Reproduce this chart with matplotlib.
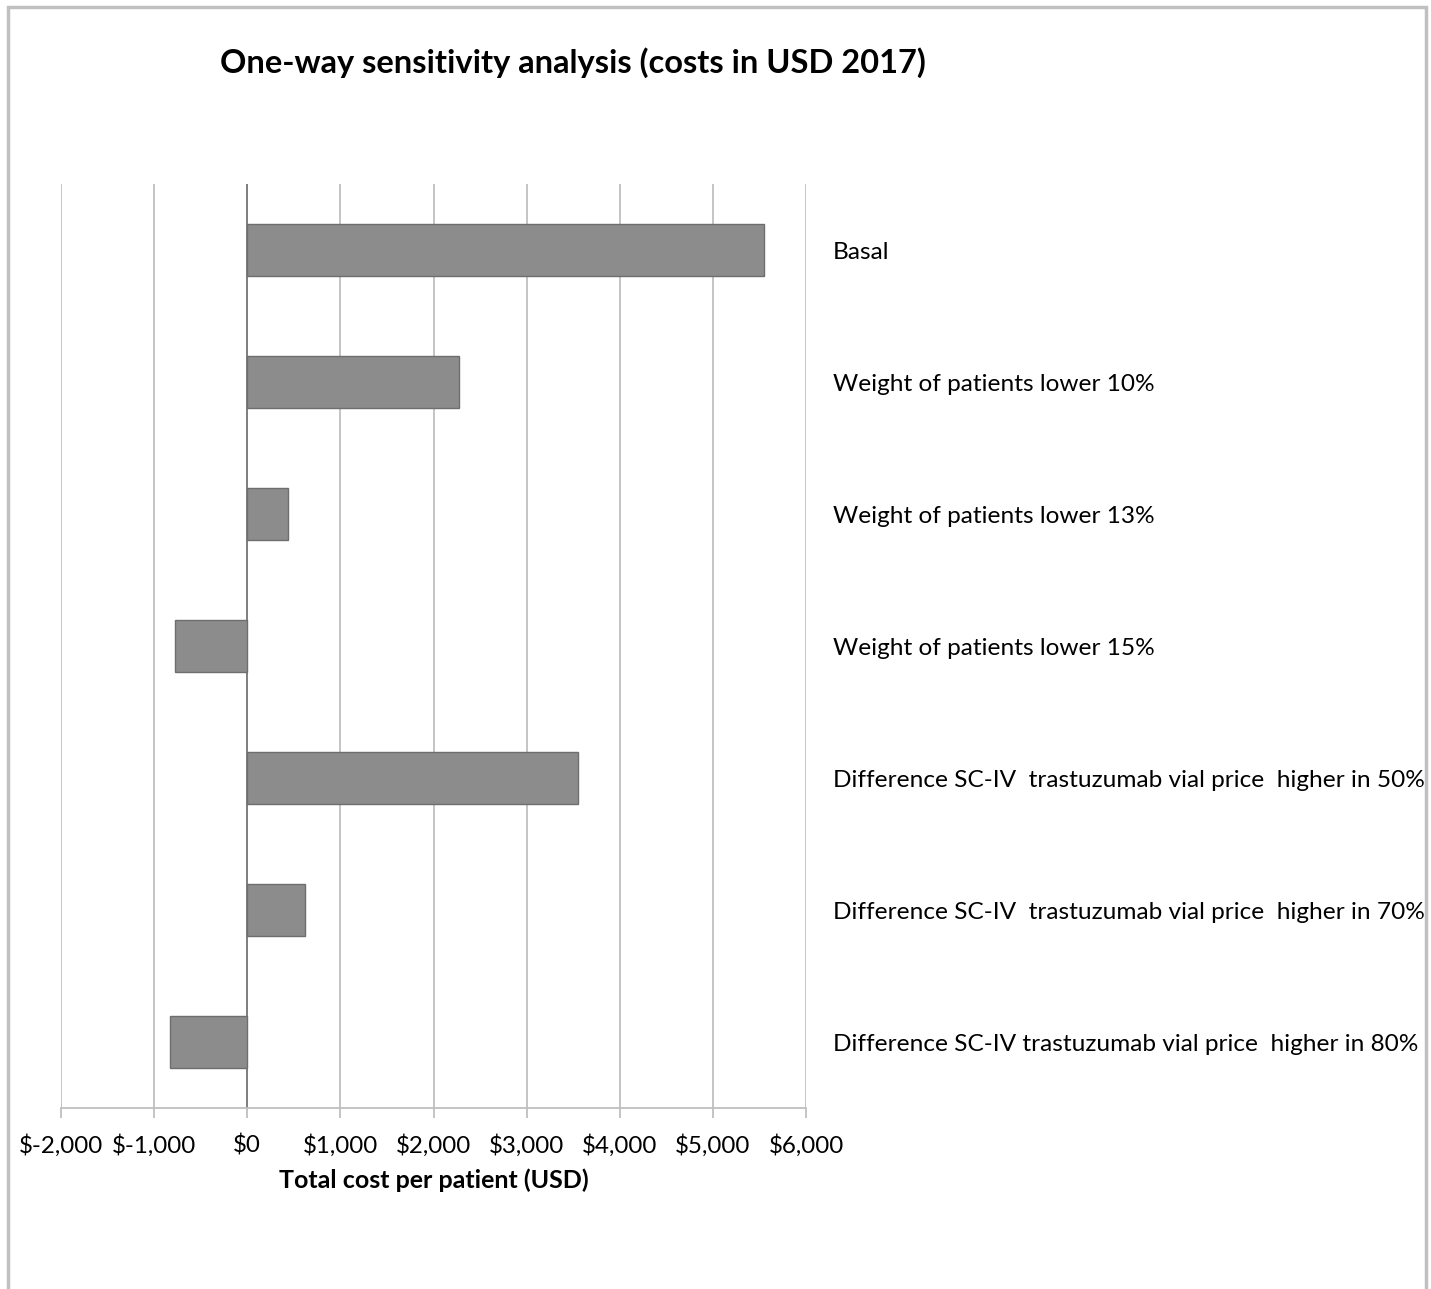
import matplotlib
matplotlib.use("Agg")
import matplotlib.pyplot as plt
from matplotlib.patches import Rectangle
from matplotlib.ticker import FuncFormatter

categories = [
    "Basal",
    "Weight of patients lower 10%",
    "Weight of patients lower 13%",
    "Weight of patients lower 15%",
    "Difference SC-IV  trastuzumab vial price  higher in 50%",
    "Difference SC-IV  trastuzumab vial price  higher in 70%",
    "Difference SC-IV trastuzumab vial price  higher in 80%",
]
values = [5550, 2270, 440, -780, 3550, 620, -830]
xticks = [-2000, -1000, 0, 1000, 2000, 3000, 4000, 5000, 6000]

plt.rcParams['font.family'] = ['Lato', 'DejaVu Sans']

fig = plt.figure(figsize=(14.31, 12.89), dpi=100)
ax = fig.add_axes([61/1431, (1289-1108)/1289, 745/1431, 924/1289])

y = list(range(len(categories)))
ax.barh(y, values, height=0.4, color='#8c8c8c', edgecolor='#6e6e6e', linewidth=1, zorder=3)
ax.set_ylim(len(categories) - 0.5, -0.5)
ax.set_xlim(-2000, 6000)
ax.set_xticks(xticks)
ax.xaxis.set_major_formatter(FuncFormatter(lambda v, p: "$" + format(int(v), ",")))
ax.grid(axis='x', color='#bfbfbf', linewidth=1.3, zorder=0)
ax.axvline(0, color='#7a7a7a', linewidth=1.3, zorder=2)
for s in ['top', 'left', 'right']:
    ax.spines[s].set_visible(False)
ax.spines['bottom'].set_color('#bfbfbf')
ax.spines['bottom'].set_linewidth(1.3)
ax.tick_params(axis='x', direction='out', length=7, color='#bfbfbf', width=1.3,
               labelsize=17.4, pad=12)
ax.set_yticks([])
for yi, lab in zip(y, categories):
    ax.text(1.0 + 27/745, yi + 0.02, lab, transform=ax.get_yaxis_transform(),
            va='center', ha='left', fontsize=17.6)
ax.set_xlabel("Total cost per patient (USD)", fontsize=18, fontweight='bold', labelpad=8)

fig.text(573/1431, 1 - 63/1289, "One-way sensitivity analysis (costs in USD 2017)",
         ha='center', va='center', fontsize=23.5, fontweight='bold')

fig.patches.append(Rectangle((8/1431, -5/1289), 1418/1431, 1287/1289, transform=fig.transFigure,
                             fill=False, edgecolor='#c0c0c0', linewidth=2.5))

fig.savefig("out.png", dpi=100)
